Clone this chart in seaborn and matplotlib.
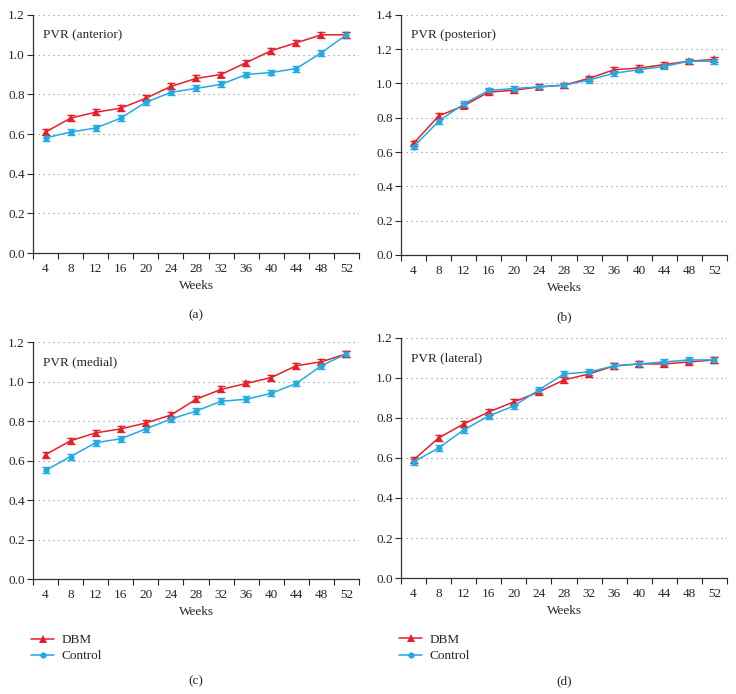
import matplotlib.pyplot as plt
import seaborn as sns
import pandas as pd
import numpy as np

plt.switch_backend('Agg')

weeks = ['4', '8', '12', '16', '20', '24', '28', '32', '36', '40', '44', '48', '52']

anterior_dbm = [0.61, 0.68, 0.71, 0.73, 0.78, 0.84, 0.88, 0.90, 0.96, 1.02, 1.06, 1.10, 1.10]
anterior_ctrl = [0.58, 0.61, 0.63, 0.68, 0.76, 0.81, 0.83, 0.85, 0.90, 0.91, 0.93, 1.01, 1.10]
posterior_dbm = [0.65, 0.81, 0.87, 0.95, 0.96, 0.98, 0.99, 1.03, 1.08, 1.09, 1.11, 1.13, 1.14]
posterior_ctrl = [0.63, 0.78, 0.88, 0.96, 0.97, 0.98, 0.99, 1.02, 1.06, 1.08, 1.10, 1.13, 1.13]
medial_dbm = [0.63, 0.70, 0.74, 0.76, 0.79, 0.83, 0.91, 0.96, 0.99, 1.02, 1.08, 1.10, 1.14]
medial_ctrl = [0.55, 0.62, 0.69, 0.71, 0.76, 0.81, 0.85, 0.90, 0.91, 0.94, 0.99, 1.08, 1.14]
lateral_dbm = [0.59, 0.70, 0.77, 0.83, 0.88, 0.93, 0.99, 1.02, 1.06, 1.07, 1.07, 1.08, 1.09]
lateral_ctrl = [0.58, 0.65, 0.74, 0.81, 0.86, 0.94, 1.02, 1.03, 1.06, 1.07, 1.08, 1.09, 1.09]

# approximate standard errors
err_dbm = [0.015] * 13
err_ctrl = [0.015] * 13

panels = [
    ('PVR (anterior)', anterior_dbm, anterior_ctrl, 1.2, '(a)'),
    ('PVR (posterior)', posterior_dbm, posterior_ctrl, 1.4, '(b)'),
    ('PVR (medial)', medial_dbm, medial_ctrl, 1.2, '(c)'),
    ('PVR (lateral)', lateral_dbm, lateral_ctrl, 1.2, '(d)'),
]

RED = '#E5202A'
BLUE = '#22AAE2'

sns.set_style('white')
plt.rcParams['font.family'] = ['Liberation Serif', 'DejaVu Serif']
plt.rcParams['font.size'] = 9.5

fig = plt.figure(figsize=(7.36, 6.94), dpi=100)
positions = [
    [0.0448, 0.6354, 0.443, 0.343],
    [0.5448, 0.6326, 0.443, 0.346],
    [0.0448, 0.1657, 0.443, 0.3415],
    [0.5448, 0.1671, 0.443, 0.346],
]

for i, (title, dbm, ctrl, ymax, tag) in enumerate(panels):
    ax = fig.add_axes(positions[i])
    df = pd.DataFrame({
        'x': list(range(len(weeks))) * 2,
        'PVR': dbm + ctrl,
        'group': ['DBM'] * len(weeks) + ['Control'] * len(weeks),
    })
    ax.errorbar(range(len(weeks)), ctrl, yerr=err_ctrl, fmt='none', ecolor=BLUE,
                elinewidth=1.0, capsize=2.8, capthick=1.0, zorder=2)
    ax.errorbar(range(len(weeks)), dbm, yerr=err_dbm, fmt='none', ecolor=RED,
                elinewidth=1.0, capsize=2.8, capthick=1.0, zorder=2)
    sns.lineplot(data=df, x='x', y='PVR', hue='group', style='group',
                 palette={'DBM': RED, 'Control': BLUE},
                 markers={'DBM': '^', 'Control': 'o'}, dashes=False,
                 hue_order=['DBM', 'Control'],
                 markersize=5.5, markeredgewidth=0, linewidth=1.1,
                 ax=ax, legend=(i >= 2), zorder=3)
    for ln in ax.lines:
        if ln.get_color() == BLUE or ln.get_markerfacecolor() == BLUE:
            ln.set_markersize(4.5)

    ax.set_xlim(-0.5, len(weeks) - 0.5)
    ax.set_ylim(0, ymax)
    ax.set_xticks(range(len(weeks)))
    ax.set_xticklabels(weeks)
    ax.set_xticks(np.arange(-0.5, len(weeks), 1), minor=True)
    ax.tick_params(axis='x', which='major', length=0, pad=7, labelsize=9.5)
    ax.tick_params(axis='x', which='minor', length=4, width=0.8, direction='out')
    ax.set_yticks(np.arange(0, ymax + 0.01, 0.2))
    ax.set_yticklabels([f'{v:.1f}' for v in np.arange(0, ymax + 0.01, 0.2)])
    ax.tick_params(axis='y', length=4, width=0.8, direction='out', left=True, labelsize=9.5, pad=2)
    ax.tick_params(axis='x', bottom=True, which='both')
    ax.yaxis.grid(True, linestyle=(0, (1, 3.5)), color='#888888', linewidth=0.8)
    ax.set_axisbelow(True)
    for s in ['top', 'right']:
        ax.spines[s].set_visible(False)
    for s in ['left', 'bottom']:
        ax.spines[s].set_color('#333333')
        ax.spines[s].set_linewidth(0.9)
    ax.set_xlabel('Weeks', fontsize=9.5, labelpad=4)
    ax.set_ylabel('')
    ax.text(0.03, 0.915, title, transform=ax.transAxes, fontsize=9.5, va='center')
    tag_y = -0.26 if i < 2 else -0.43
    ax.text(0.5, tag_y, tag, transform=ax.transAxes, ha='center', va='center', fontsize=9.5)

    if i >= 2:
        handles, labels = ax.get_legend_handles_labels()
        ax.legend(handles, labels, loc='upper left', bbox_to_anchor=(-0.005, -0.232),
                  frameon=False, fontsize=9.5, handlelength=1.7, handletextpad=0.6,
                  labelspacing=0.3, borderaxespad=0, borderpad=0)

fig.savefig('out.png', dpi=100)
